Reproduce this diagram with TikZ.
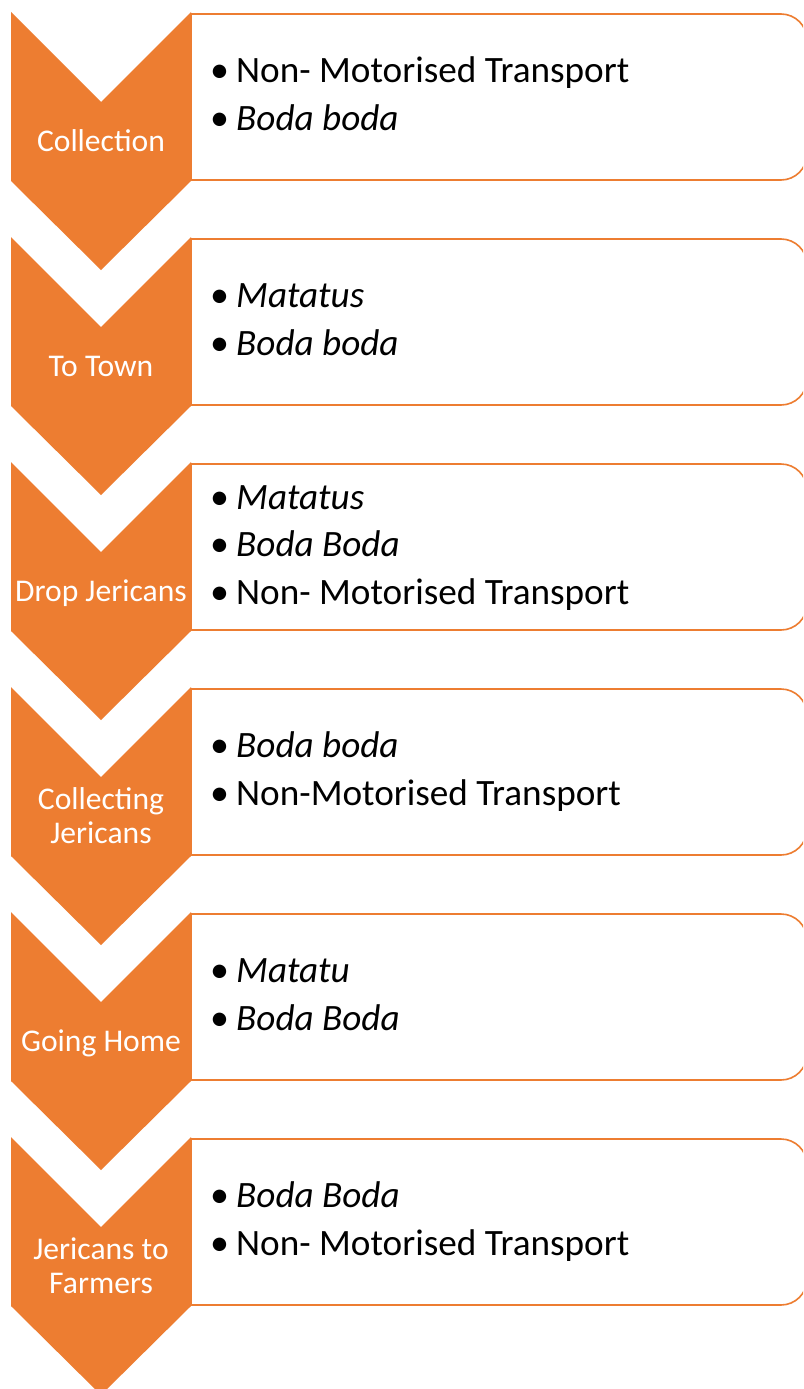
\documentclass[tikz,border=0pt]{standalone}
\usepackage{fontspec}
\setmainfont{Carlito}
\definecolor{accent}{HTML}{ED7D31}
\newcommand\chev[2]{% #1 index, #2 name
  \fill[accent] (11,12+225*#1) -- (101,102+225*#1) -- (191,12+225*#1) -- (191,181+225*#1) -- (101,270+225*#1) -- (11,181+225*#1) -- cycle;
  \begin{scope}
    \clip (190,225*#1) rectangle (803,200+225*#1);
    \draw[boxline,rounded corners=26] (150,14+225*#1) rectangle (807,180+225*#1);
  \end{scope}
  \draw[boxline] (191,14+225*#1) -- (191,180+225*#1);
  \coordinate (#2) at (101,141+225*#1);
}
% #1 index, #2 baseline offset from box centre, #3 name, #4 text
\newcommand\bitem[4]{%
  \node[bul] (#3b) at (210,106.5+225*#1+#2) {•};
  \node[itm] (#3) at (236,106.5+225*#1+#2) {#4};
}
% #1 index, #2 offset, #3 name, #4 text
\newcommand\lab[4]{%
  \node[labtext] (#3) at (101,151+225*#1+#2) {#4};
}
\begin{document}
\begin{tikzpicture}[x=1pt,y=-1pt,
  boxline/.style={draw=accent,line width=1.6pt,fill=white},
  bul/.style={anchor=base west,inner sep=0pt,font=\fontsize{38}{44}\selectfont},
  itm/.style={anchor=base west,inner sep=0pt,font=\fontsize{37.2}{44}\selectfont},
  labtext/.style={anchor=base,inner sep=0pt,text=white,font=\fontsize{31.6}{38}\selectfont}]
\useasboundingbox (0,0) rectangle (803,1389);
\clip (0,0) rectangle (803,1389);
\fill[white] (0,0) rectangle (803,1389);
% stage 1
\chev{0}{c1}
\lab{0}{0}{l1}{Collection}
\bitem{0}{-24}{i11}{Non- Motorised Transport}
\bitem{0}{23.5}{i12}{\textit{Boda boda}}
% stage 2
\chev{1}{c2}
\lab{1}{0}{l2}{To Town}
\bitem{1}{-24}{i21}{\textit{Matatus}}
\bitem{1}{23.5}{i22}{\textit{Boda boda}}
% stage 3
\chev{2}{c3}
\lab{2}{0}{l3}{Drop Jericans}
\bitem{2}{-47.5}{i31}{\textit{Matatus}}
\bitem{2}{0}{i32}{\textit{Boda Boda}}
\bitem{2}{47.5}{i33}{Non- Motorised Transport}
% stage 4
\chev{3}{c4}
\lab{3}{-17}{l41}{Collecting}
\lab{3}{17}{l42}{Jericans}
\bitem{3}{-24}{i41}{\textit{Boda boda}}
\bitem{3}{23.5}{i42}{Non-Motorised Transport}
% stage 5
\chev{4}{c5}
\lab{4}{0}{l5}{Going Home}
\bitem{4}{-24}{i51}{\textit{Matatu}}
\bitem{4}{23.5}{i52}{\textit{Boda Boda}}
% stage 6
\chev{5}{c6}
\lab{5}{-17}{l61}{Jericans to}
\lab{5}{17}{l62}{Farmers}
\bitem{5}{-24}{i61}{\textit{Boda Boda}}
\bitem{5}{23.5}{i62}{Non- Motorised Transport}
\end{tikzpicture}
\end{document}
